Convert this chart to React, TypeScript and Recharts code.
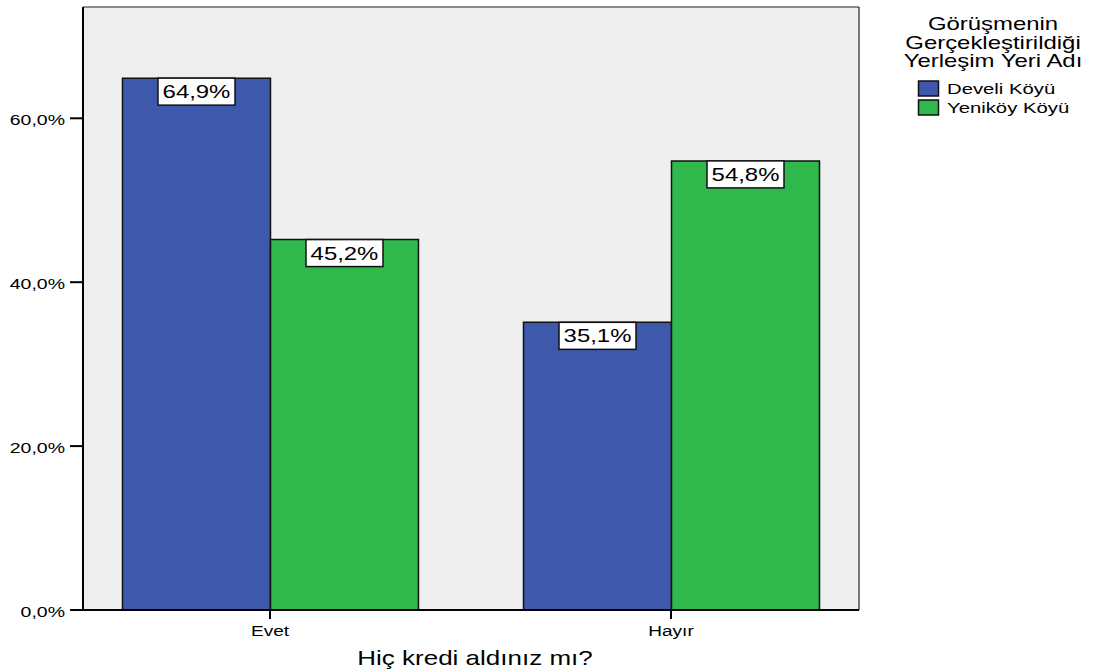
import React from "react";
import {
  BarChart,
  Bar,
  XAxis,
  YAxis,
  CartesianGrid,
  Legend,
  LabelList,
  ReferenceLine,
} from "recharts";

const CATEGORIES = ["Evet", "Hayır"];
const DEVELI_KOYU = [64.9, 35.1];
const YENIKOY_KOYU = [45.2, 54.8];
const Y_TICKS = [0, 20, 40, 60];
const SERIES_NAMES = ["Develi Köyü", "Yeniköy Köyü"];
const LEGEND_TITLE = ["Görüşmenin", "Gerçekleştirildiği", "Yerleşim Yeri Adı"];
const X_TITLE = "Hiç kredi aldınız mı?";

const Y_MAX = 73.58;
const X_MIN = -0.4663;
const X_MAX = 1.4688;

const BLUE = "#3E58AC";
const GREEN = "#2FB84B";
const BG = "#EFEFEF";
const FONT = "'Liberation Sans', Arial, sans-serif";
const SX = 1.3;

const data = CATEGORIES.map((name, i) => ({
  idx: i,
  name,
  develi: DEVELI_KOYU[i],
  yenikoy: YENIKOY_KOYU[i],
}));

const fmt = (v: number) => v.toFixed(1).replace(".", ",") + "%";

const YTick = (props: any) => {
  const { x, y, payload } = props;
  return (
    <text
      x={0}
      y={0}
      transform={`translate(${x},${y}) scale(${SX},1)`}
      textAnchor="end"
      dy="0.45em"
      fontSize={15}
      fontFamily={FONT}
      fill="#000"
    >
      {fmt(payload.value)}
    </text>
  );
};

const XTick = (props: any) => {
  const { x, y, payload } = props;
  return (
    <text
      x={0}
      y={0}
      transform={`translate(${x},${y}) scale(1.27,1)`}
      textAnchor="middle"
      dy="1em"
      fontSize={15}
      fontFamily={FONT}
      fill="#000"
    >
      {CATEGORIES[payload.value]}
    </text>
  );
};

const ValueLabel = (props: any) => {
  const { x, y, width, value } = props;
  const cx = Number(x) + Number(width) / 2;
  const top = Number(y);
  const bw = 77;
  const bh = 27;
  return (
    <g>
      <rect
        x={cx - bw / 2}
        y={top}
        width={bw}
        height={bh}
        fill="#fff"
        stroke="#111"
        strokeWidth={1.5}
      />
      <text
        x={0}
        y={0}
        transform={`translate(${cx},${top + 20}) scale(1.33,1)`}
        textAnchor="middle"
        fontSize={18}
        fontFamily={FONT}
        fill="#000"
      >
        {fmt(Number(value))}
      </text>
    </g>
  );
};

const XTitle = (props: any) => {
  const vb = props.viewBox || {};
  const cx = vb.x + vb.width / 2 + 4;
  return (
    <text
      x={0}
      y={0}
      transform={`translate(${cx},665) scale(1.3,1)`}
      textAnchor="middle"
      fontSize={20}
      fontFamily={FONT}
      fill="#000"
    >
      {X_TITLE}
    </text>
  );
};

const LegendContent = () => {
  const ox = 870;
  const colors = [BLUE, GREEN];
  return (
    <svg width={225} height={130} style={{ display: "block" }}>
      {LEGEND_TITLE.map((t, i) => (
        <text
          key={t}
          x={0}
          y={0}
          transform={`translate(${993 - ox},${30 + i * 18.5}) scale(1.33,1)`}
          textAnchor="middle"
          fontSize={18}
          fontFamily={FONT}
          fill="#000"
        >
          {t}
        </text>
      ))}
      {SERIES_NAMES.map((n, i) => (
        <g key={n}>
          <rect
            x={918.5 - ox}
            y={81 + i * 19}
            width={20}
            height={15}
            fill={colors[i]}
            stroke="#111"
            strokeWidth={1.5}
          />
          <text
            x={0}
            y={0}
            transform={`translate(${947 - ox},${94 + i * 19}) scale(1.45,1)`}
            textAnchor="start"
            fontSize={14}
            fontFamily={FONT}
            fill="#000"
          >
            {n}
          </text>
        </g>
      ))}
    </svg>
  );
};

export default function App() {
  return (
    <div
      style={{
        position: "absolute",
        left: 0,
        top: 0,
        width: 1095,
        height: 671,
        background: "#fff",
      }}
    >
      <BarChart
        width={1095}
        height={671}
        data={data}
        margin={{ top: 7, right: 11, bottom: 31, left: 0 }}
        barGap={0}
      >
        <CartesianGrid
          horizontal={false}
          vertical={false}
          fill={BG}
          stroke="none"
        />
        <XAxis
          type="number"
          dataKey="idx"
          domain={[X_MIN, X_MAX]}
          ticks={[0, 1]}
          allowDataOverflow
          height={30}
          axisLine={{ stroke: "#000", strokeWidth: 2 }}
          tickLine={{ stroke: "#000", strokeWidth: 2 }}
          tickSize={9}
          tickMargin={2}
          tick={<XTick />}
          label={<XTitle />}
        />
        <YAxis
          type="number"
          domain={[0, Y_MAX]}
          ticks={Y_TICKS}
          allowDataOverflow
          width={83}
          axisLine={{ stroke: "#000", strokeWidth: 2 }}
          tickLine={{ stroke: "#000", strokeWidth: 2 }}
          tickSize={13}
          tickMargin={5}
          tick={<YTick />}
        />
        <ReferenceLine y={Y_MAX} stroke="#222" strokeWidth={1.2} />
        <ReferenceLine x={X_MAX} stroke="#222" strokeWidth={1.2} />
        <Legend
          verticalAlign="top"
          align="right"
          layout="vertical"
          wrapperStyle={{ left: 870, top: 0, width: 225 }}
          content={<LegendContent />}
        />
        <Bar
          dataKey="develi"
          name={SERIES_NAMES[0]}
          fill={BLUE}
          stroke="#111"
          strokeWidth={1.5}
          barSize={148}
          isAnimationActive={false}
        >
          <LabelList dataKey="develi" content={<ValueLabel />} />
        </Bar>
        <Bar
          dataKey="yenikoy"
          name={SERIES_NAMES[1]}
          fill={GREEN}
          stroke="#111"
          strokeWidth={1.5}
          barSize={148}
          isAnimationActive={false}
        >
          <LabelList dataKey="yenikoy" content={<ValueLabel />} />
        </Bar>
      </BarChart>
    </div>
  );
}
